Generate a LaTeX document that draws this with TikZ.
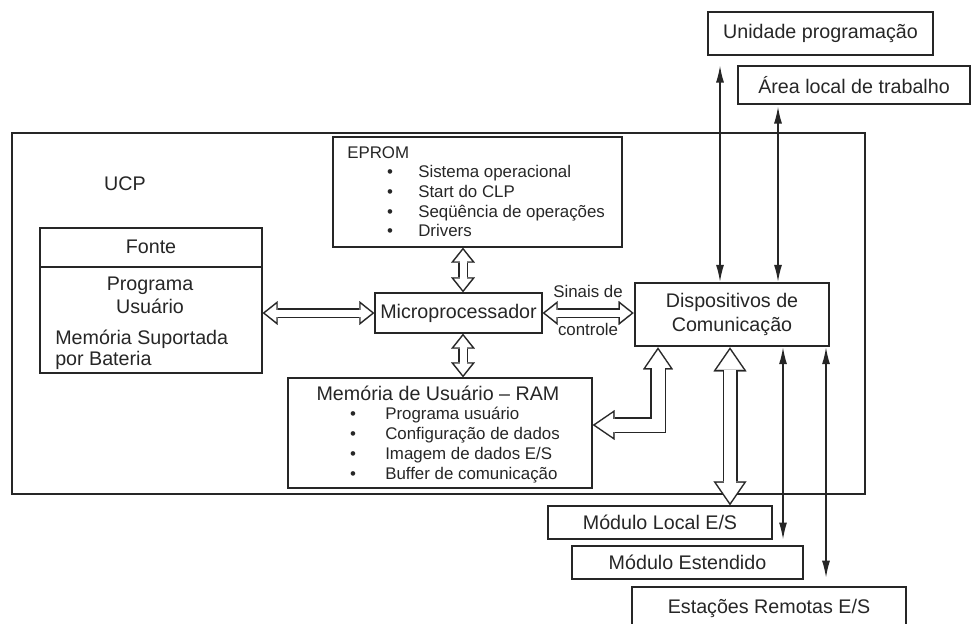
\documentclass[tikz,border=0pt]{standalone}
\usepackage{fontspec}
\setmainfont{Liberation Sans}
\usetikzlibrary{arrows.meta,positioning,calc}
\definecolor{ink}{HTML}{262626}
\tikzset{
  box/.style={draw=ink,line width=1pt,inner sep=0pt,align=center,
              font=\fontsize{14}{16.5}\selectfont,text=ink},
  heavybox/.style={box,line width=1.9pt},
  lbl/.style={inner sep=0pt,font=\fontsize{14}{16.5}\selectfont,text=ink},
  itm/.style={inner sep=0pt,font=\fontsize{12}{14}\selectfont,text=ink},
  dot/.style={inner sep=0pt,font=\fontsize{12}{14}\selectfont,text=ink},
  wire/.style={draw=ink,line width=0.9pt,
               {Latex[length=4.2mm,width=2mm]}-{Latex[length=4.2mm,width=2mm]}},
  % hollow bus: shaft, head width, head length | inner shaft, inner head width, inner head length, inset
  bus/.style n args={7}{draw=ink,line width=#1,
      {Triangle[width=#2,length=#3,line width=0.1pt]}-{Triangle[width=#2,length=#3,line width=0.1pt]},
      postaction={draw=white,line width=#4,shorten <=#7,shorten >=#7,
      {Triangle[width=#5,length=#6,line width=0.1pt]}-{Triangle[width=#5,length=#6,line width=0.1pt]}}},
  smallbus/.style={bus={2.5mm}{6mm}{3.75mm}{1.75mm}{4.4mm}{2.8mm}{0.6mm}},
  bigbus/.style={bus={3.75mm}{8.25mm}{6mm}{3mm}{6.8mm}{4.95mm}{0.66mm}},
  elbus/.style={bus={4mm}{7.5mm}{5.5mm}{3.25mm}{6.1mm}{4.45mm}{0.67mm}}
}

\begin{document}
\begin{tikzpicture}[x=0.25mm,y=-0.25mm]
  \useasboundingbox (0,0) rectangle (972,623);

  % UCP frame
  \node[box,minimum width=213.25mm,minimum height=90.25mm] (ucp) at (438.5,313.5) {};
  \node[lbl,anchor=base] (ucplabel) at (125,190) {UCP};

  % Fonte
  \node[box,minimum width=55.5mm,minimum height=36.25mm] (fonte) at (151,300.5) {};
  \draw[draw=ink,line width=1pt] (fonte.west |- 0,267) -- (fonte.east |- 0,267);
  \node[lbl,anchor=base] (fontetitle) at (151,253) {Fonte};
  \node[lbl,anchor=base] (prog) at (150,290) {Programa};
  \node[lbl,anchor=base] (usu) at (150,313) {Usuário};
  \node[lbl,anchor=base west] (memsup) at (55,344) {Memória Suportada};
  \node[lbl,anchor=base west] (bat) at (55,365) {por Bateria};

  % EPROM
  \node[box,minimum width=72.25mm,minimum height=27.5mm] (eprom) at (477.5,192) {};
  \node[itm,anchor=base west] (eptitle) at (347,158) {EPROM};
  \foreach \txt [count=\i] in {Sistema operacional,Start do CLP,Seqüência de operações,Drivers}{
    \node[dot,anchor=base] (epdot\i) at (390,158+19.7*\i) {\textbullet};
    \node[itm,anchor=base west] (ep\i) at (418,158+19.7*\i) {\txt};
  }

  % Microprocessador
  \node[box,minimum width=41.75mm,minimum height=10mm] (micro) at (458.5,313) {Microprocessador};

  % RAM
  \node[box,minimum width=76mm,minimum height=27.5mm] (ram) at (440,433) {};
  \node[lbl,anchor=base] (ramtitle) at (438,400) {Memória de Usuário – RAM};
  \foreach \txt [count=\i] in {Programa usuário,Configuração de dados,Imagem de dados E/S,Buffer de comunicação}{
    \node[dot,anchor=base] (ramdot\i) at (353,399+20*\i) {\textbullet};
    \node[itm,anchor=base west] (ram\i) at (385,399+20*\i) {\txt};
  }

  % Dispositivos
  \node[heavybox,minimum width=48.5mm,minimum height=15.75mm] (disp) at (732,314.5)
    {Dispositivos de\\[1pt]Comunicação};
  \node[itm,anchor=base] (sinais) at (588,297) {Sinais de};
  \node[itm,anchor=base] (controle) at (588,335) {controle};

  % outside units
  \node[box,minimum width=56.25mm,minimum height=10.75mm] (unid) at (820.5,33.5) {Unidade programação};
  \node[box,minimum width=58mm,minimum height=9.5mm] (area) at (854,85) {Área local de trabalho};
  \node[box,minimum width=56mm,minimum height=8.25mm] (modlocal) at (660,522.5) {Módulo Local E/S};
  \node[box,minimum width=57.75mm,minimum height=8.25mm] (modest) at (687.5,562.5) {Módulo Estendido};
  \node[box,minimum width=68.5mm,minimum height=10.75mm] (estacoes) at (769,608.5) {Estações Remotas E/S};

  % buses
  \draw[smallbus] (fonte.east |- micro.west) -- (micro.west);
  \draw[smallbus] (eprom.south -| 463,0) -- (micro.north -| 463,0);
  \draw[smallbus] (micro.south -| 463,0) -- (ram.north -| 463,0);
  \draw[smallbus] (micro.east) -- (disp.west |- micro.east);
  \draw[elbus] ([yshift=2mm]ram.east) -| (disp.south -| 658,0);
  \draw[bigbus] (disp.south -| 730,0) -- (modlocal.north -| 730,0);

  % links
  \draw[wire,shorten <=2.5mm] (unid.south -| 720,0) -- (disp.north -| 720,0);
  \draw[wire,shorten <=0.5mm] (area.south -| 778,0) -- (disp.north -| 778,0);
  \draw[wire,shorten >=1.5mm] (disp.south -| 783,0) -- (modest.north -| 783,0);
  \draw[wire,shorten >=2.2mm] (disp.south -| 826,0) -- (estacoes.north -| 826,0);
\end{tikzpicture}
\end{document}
